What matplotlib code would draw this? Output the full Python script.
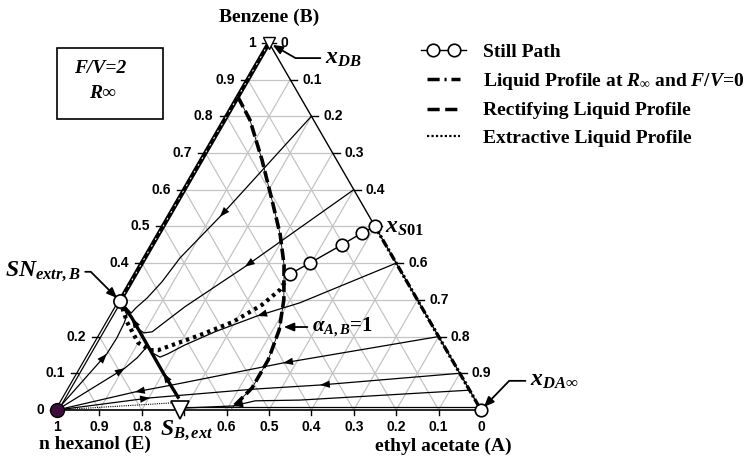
import numpy as np
import matplotlib.pyplot as plt
from matplotlib.lines import Line2D
from matplotlib.patches import Rectangle
from matplotlib.legend_handler import HandlerLine2D

plt.rcParams['font.family'] = ['Liberation Serif', 'DejaVu Sans']
plt.rcParams['mathtext.fontset'] = 'custom'
plt.rcParams['mathtext.rm'] = 'Liberation Serif:bold'
plt.rcParams['mathtext.it'] = 'Liberation Serif:italic:bold'
plt.rcParams['mathtext.bf'] = 'Liberation Serif:bold'

# compositions: a = ethyl acetate (A), b = benzene (B); n hexanol E = 1 - a - b
still_a = [0.50, 0.478, 0.447, 0.397, 0.365]
still_b = [0.50, 0.482, 0.450, 0.401, 0.371]

alpha_a = [0.0, 0.060, 0.143, 0.221, 0.288, 0.338, 0.385, 0.415, 0.430, 0.430, 0.410]
alpha_b = [0.853, 0.790, 0.681, 0.572, 0.477, 0.395, 0.300, 0.218, 0.136, 0.060, 0.005]

extr_a = [0.0, 0.045, 0.100, 0.138, 0.157, 0.235, 0.295, 0.340, 0.362, 0.365]
extr_b = [0.297, 0.240, 0.183, 0.163, 0.163, 0.204, 0.240, 0.286, 0.327, 0.371]

rect_a = [0.0, 0.0]
rect_b = [1.0, 0.297]
rinf_a = [0.50, 1.0]
rinf_b = [0.50, 0.0]

sep_a = [0.0, 0.051, 0.200, 0.268]
sep_b = [0.297, 0.251, 0.101, 0.035]

# thin profiles (a list, b list)
traj_r1 = ([0.2, 0.121, 0.083, 0.073, 0.060, 0.047, 0.043, 0.0],
           [0.8, 0.526, 0.414, 0.349, 0.305, 0.278, 0.264, 0.297])
traj_r2 = ([0.4, 0.248, 0.161, 0.135, 0.118, 0.100, 0.074],
           [0.6, 0.390, 0.281, 0.240, 0.213, 0.210, 0.225])
traj_r3 = ([0.6, 0.427, 0.344, 0.266, 0.213, 0.185, 0.171, 0.142],
           [0.4, 0.292, 0.256, 0.213, 0.177, 0.153, 0.144, 0.158])
traj_r4 = ([0.8, 0.469, 0.237, 0.159, 0.0],
           [0.2, 0.128, 0.068, 0.049, 0.0])
traj_r5 = ([0.0, 0.203, 0.438, 0.586, 0.9],
           [0.0, 0.033, 0.057, 0.068, 0.1])
traj_r6 = ([0.946, 0.559, 0.455, 0.410, 0.290],
           [0.054, 0.027, 0.025, 0.011, 0.005])
traj_r7 = ([0.29, 0.995], [0.007, 0.007])
traj_l1 = ([0.0, 0.041, 0.043, 0.040, 0.0355, 0.0],
           [0.0, 0.153, 0.196, 0.237, 0.259, 0.297])
traj_l2 = ([0.0, 0.103, 0.118, 0.125],
           [0.0, 0.114, 0.142, 0.169])
traj_es = ([0.0, 0.27], [0.0, 0.02])

# arrows: (profile, tip index, tail index)
arrows = [(traj_r1, 1, 0), (traj_r2, 1, 0), (traj_r3, 2, 1), (traj_r4, 1, 0),
          (traj_r4, 3, 2), (traj_r5, 1, 0), (traj_r5, 3, 4), (traj_r6, 3, 2),
          (traj_l1, 1, 0), (traj_l2, 1, 0),
          ((sep_a, sep_b), 1, 2), ((sep_a, sep_b), 2, 3)]

ticks = np.round(np.arange(0, 11) / 10, 1)

SQ3 = np.sqrt(3) / 2
GRID = '#c4c4c4'


def tern(a, b):
    a = np.asarray(a, float)
    b = np.asarray(b, float)
    return a + 0.5 * b, SQ3 * b


def lab(v):
    return '%g' % v


class StillHandler(HandlerLine2D):
    # line over the full handle, the two circles set inwards
    def get_xdata(self, legend, xdescent, ydescent, width, height, fontsize):
        pad = 0.6 * fontsize
        x0 = -xdescent
        xdata = np.array([x0, x0 + pad, x0 + width - pad, x0 + width])
        return xdata, xdata

    def create_artists(self, *args, **kwargs):
        arts = super().create_artists(*args, **kwargs)
        if len(arts[0].get_xdata()) == 4:
            arts[0].set_markevery([1, 2])
        return arts


fig = plt.figure(figsize=(7.45, 4.63), dpi=100)
ax = fig.add_axes([0, 0, 1, 1])
ax.set_xlim(-57 / 424, 688 / 424)
ax.set_ylim(-53 / 424, 410 / 424)
ax.axis('off')

# grid
for k in ticks[1:-1]:
    for a, b in (([0, 1 - k], [k, k]), ([k, k], [0, 1 - k]), ([1 - k, 0], [0, 1 - k])):
        x, y = tern(a, b)
        ax.plot(x, y, color=GRID, lw=0.9, zorder=1)

# edges
x, y = tern([0, 1], [0, 0])
ax.plot(x, y, color='k', lw=1.2, zorder=3)
x, y = tern([0, 1], [1, 0])
ax.plot(x, y, color='k', lw=1.0, zorder=3)
x, y = tern([0, 0], [0, rect_b[1]])
ax.plot(x, y, color='k', lw=2.8, zorder=3, solid_capstyle='butt')
ax.plot(x, y, color='white', lw=1.0, zorder=3, solid_capstyle='butt')

# ticks and tick labels
tk = 7 / 424
tickfont = dict(fontsize=10, fontweight='bold', family='Liberation Sans')
for v in ticks:
    x, y = tern(0, v)
    ax.plot([x - tk, x], [y, y], color='k', lw=1.0, zorder=3)
    if abs(v - 0.3) > 1e-6:
        ax.text(x - 0.031, y, lab(v), ha='right', va='center', **tickfont)
    if v > 0:
        x, y = tern(1 - v, v)
        ax.plot([x, x + tk], [y, y], color='k', lw=1.0, zorder=3)
        if abs(v - 0.5) > 1e-6:
            ax.text(x + 0.028, y, lab(round(1 - v, 1)), ha='left', va='center', **tickfont)
    x, y = tern(1 - v, 0)
    ax.plot([x, x], [0, -5 / 424], color='k', lw=1.0, zorder=3)
    if abs(v - 0.7) > 1e-6:
        ax.text(x, -0.040, lab(v), ha='center', va='center', **tickfont)

# thin profiles
for tr in (traj_r1, traj_r2, traj_r3, traj_r4, traj_r5, traj_r6, traj_r7, traj_l1, traj_l2):
    x, y = tern(*tr)
    ax.plot(x, y, color='k', lw=0.9, zorder=4)
x, y = tern(*traj_es)
ax.plot(x, y, color='k', lw=0.8, ls=(0, (1, 1)), zorder=4)

for tr, i, j in arrows:
    x, y = tern(*tr)
    ax.annotate('', xy=(x[i], y[i]), xytext=(x[j], y[j]), zorder=6,
                arrowprops=dict(arrowstyle='-|>,head_length=0.6,head_width=0.22',
                                color='k', lw=0, mutation_scale=12,
                                shrinkA=0, shrinkB=0))

# separatrix
x, y = tern(sep_a, sep_b)
ax.plot(x, y, color='k', lw=2.4, zorder=5)

# rectifying profile (left edge)
x, y = tern(rect_a, rect_b)
ax.plot(x, y, color='k', lw=3.2, zorder=5, solid_capstyle='butt')
ax.plot(x, y, color='white', lw=0.7, ls=(0, (2, 6)), zorder=5)

# liquid profile at R_inf, F/V=0 (right edge)
x, y = tern(rinf_a, rinf_b)
ax.plot(x, y, color='k', lw=2.4, ls=(0, (2.5, 0.7, 0.7, 0.7)), zorder=5)

# alpha_AB = 1 curve
x, y = tern(alpha_a, alpha_b)
ax.plot(x, y, color='k', lw=0.6, zorder=5)
ax.plot(x, y, color='k', lw=2.6, ls=(0, (3.2, 1.2)), zorder=5)

# extractive profile
x, y = tern(extr_a, extr_b)
ax.plot(x, y, color='k', lw=3.0, ls=(0, (0.8, 1.0)), zorder=5)

# still path
x, y = tern(still_a, still_b)
ax.plot(x, y, color='k', lw=1.0, marker='o', ms=9, mfc='white', mec='k',
        mew=1.2, zorder=7)

# special points
pB = tern(0, 1)
pSN = tern(0, rect_b[1])
pSB = tern(0.29, 0.0)
pA = tern(1, 0)
pE = tern(0, 0)
ax.plot(*pB, marker='v', ms=8, mfc='white', mec='k', mew=1.0, zorder=8)
ax.plot(*pSN, marker='o', ms=9.5, mfc='white', mec='k', mew=1.2, zorder=8)
ax.plot(*pSB, marker='v', ms=13, mfc='white', mec='k', mew=1.2, zorder=8)
ax.plot(*pA, marker='o', ms=9, mfc='white', mec='k', mew=1.2, zorder=8)
ax.plot(*pE, marker='o', ms=10, mfc='#3d0c3d', mec='k', mew=1.0, zorder=8)

# vertex titles
tfont = dict(fontsize=14, fontweight='bold', ha='center', va='center')
ax.annotate('Benzene (B)', xy=pB, xytext=(0, 18), textcoords='offset points', **tfont)
ax.annotate('n hexanol (E)', xy=pE, xytext=(27, -25), textcoords='offset points', **tfont)
ax.annotate('ethyl acetate (A)', xy=pA, xytext=(-27, -26), textcoords='offset points', **tfont)

# point labels
arw = dict(arrowstyle='-|>,head_length=0.6,head_width=0.25', color='k', lw=1.3,
           mutation_scale=10, shrinkA=1, shrinkB=3)
ax.annotate(r'$x_{DB}$', xy=pB, xytext=(40, -11), textcoords='offset points',
            fontsize=17, ha='left', va='center',
            arrowprops=dict(connectionstyle='angle,angleA=0,angleB=-30,rad=0', **arw))
ax.annotate(r'$SN_{extr,B}$', xy=pSN, xytext=(-28, 21), textcoords='offset points',
            fontsize=17, ha='right', va='center',
            arrowprops=dict(connectionstyle='angle,angleA=0,angleB=135,rad=0', **arw))
ax.annotate(r'$x_{DA\infty}$', xy=pA, xytext=(35, 21), textcoords='offset points',
            fontsize=17, ha='left', va='center',
            arrowprops=dict(connectionstyle='angle,angleA=0,angleB=46,rad=0', **arw))
ax.annotate(r'$x_{S01}$', xy=tern(still_a[0], still_b[0]), xytext=(7, -1),
            textcoords='offset points', fontsize=17, ha='left', va='center')
ax.annotate(r'$S_{B,ext}$', xy=pSB, xytext=(5, -15), textcoords='offset points',
            fontsize=17, ha='center', va='center')
ax.annotate(r'$\alpha_{A,B}$=1', xy=tern(0.412, 0.226), xytext=(23, 0),
            textcoords='offset points', fontsize=15, fontweight='bold',
            ha='left', va='center', arrowprops=dict(**arw))

# F/V box
ax.add_patch(Rectangle((57 / 745, 1 - 119 / 463), 106 / 745, 71 / 463,
                       transform=ax.transAxes, fill=False, ec='k', lw=1.2))
ax.text(0.134, 0.851, 'F/V=2', transform=ax.transAxes, fontsize=14,
        fontweight='bold', style='italic', ha='center', va='center')
ax.text(0.138, 0.797, 'R\u221e', transform=ax.transAxes, fontsize=14,
        fontweight='bold', style='italic', ha='center', va='center')

# legend
handles = [
    Line2D([], [], color='k', lw=1.0, marker='o', ms=9, mfc='white', mec='k', mew=1.2),
    Line2D([], [], color='k', lw=2.5, ls=(0, (3.5, 1.4, 0.6, 1.4))),
    Line2D([], [], color='k', lw=2.5, ls=(0, (3.5, 1.6))),
    Line2D([], [], color='k', lw=1.6, ls=(0, (1, 1))),
]
labels = ['Still Path', r'Liquid Profile at $R_{\infty}$ and $F/V$=0',
          'Rectifying Liquid Profile', 'Extractive Liquid Profile']
ax.legend(handles, labels, loc='upper left', bbox_to_anchor=(421 / 745, 1 - 43 / 463),
          frameon=False, numpoints=2, handlelength=2.3, handletextpad=0.9,
          labelspacing=0.52, borderpad=0, borderaxespad=0,
          handler_map={handles[0]: StillHandler()},
          prop=dict(family='Liberation Serif', weight='bold', size=14))

fig.savefig('out.png', dpi=100)
